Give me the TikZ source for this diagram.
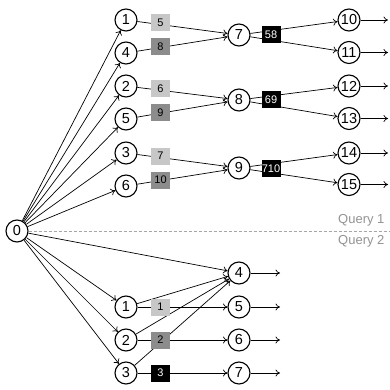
\documentclass[tikz,border=0pt]{standalone}
\usepackage{fontspec}
\setmainfont{Liberation Sans}
\usetikzlibrary{arrows.meta}
\begin{document}
\begin{tikzpicture}[x=1pt,y=-1pt]
      \tikzstyle{noeud}=[circle,draw,line width=1.1pt,fill=white,minimum size=22pt,inner sep=0pt,font=\fontsize{14.5}{16}\selectfont]
      \tikzstyle{boite}=[rectangle,minimum width=19pt,minimum height=17pt,inner sep=0pt,font=\fontsize{11}{12}\selectfont]
      \tikzstyle{clair}=[boite,fill=black!22]
      \tikzstyle{moyen}=[boite,fill=black!45]
      \tikzstyle{fonce}=[boite,fill=black,text=white]
      \tikzstyle{arrow}=[line width=0.7pt,-{To[length=4.5pt,width=7pt]}]
      \useasboundingbox (0,0) rectangle (389,390);
      % racine
      \node[noeud] (q0) at (17,231) {0};
      % requete 1
      \node[noeud] (a1) at (126,20) {1};
      \node[noeud] (a4) at (126,53) {4};
      \node[noeud] (a2) at (126,86) {2};
      \node[noeud] (a5) at (126,119) {5};
      \node[noeud] (a3) at (126,153) {3};
      \node[noeud] (a6) at (126,186) {6};
      \node[noeud] (a7) at (239,35) {7};
      \node[noeud] (a8) at (239,100) {8};
      \node[noeud] (a9) at (239,168) {9};
      \node[noeud] (a10) at (349,20) {10};
      \node[noeud] (a11) at (349,52.5) {11};
      \node[noeud] (a12) at (349,86) {12};
      \node[noeud] (a13) at (349,118.5) {13};
      \node[noeud] (a14) at (349,153) {14};
      \node[noeud] (a15) at (349,184.5) {15};
      \coordinate (f10) at (388,20);
      \coordinate (f11) at (388,52.5);
      \coordinate (f12) at (388,86);
      \coordinate (f13) at (388,118.5);
      \coordinate (f14) at (388,153);
      \coordinate (f15) at (388,184.5);
      % requete 2
      \node[noeud] (b1) at (126,307) {1};
      \node[noeud] (b2) at (126,340) {2};
      \node[noeud] (b3) at (126,373) {3};
      \node[noeud] (b4) at (239,273) {4};
      \node[noeud] (b5) at (239,307) {5};
      \node[noeud] (b6) at (239,340) {6};
      \node[noeud] (b7) at (239,373) {7};
      \coordinate (g4) at (280,273);
      \coordinate (g5) at (280,307);
      \coordinate (g6) at (280,340);
      \coordinate (g7) at (280,373);
      % separation
      \coordinate (s) at (389,231);
      \draw[gray!70,line width=0.7pt,dash pattern=on 3pt off 2pt] (q0)--(s);
      \node[gray!85,anchor=base east,font=\fontsize{13}{14}\selectfont] (t1) at (388,223.5) {Query 1};
      \node[gray!85,anchor=base east,font=\fontsize{13}{14}\selectfont] (t2) at (388,244) {Query 2};
      \draw[arrow] (q0)--(a1);
      \draw[arrow] (q0)--(a4);
      \draw[arrow] (q0)--(a2);
      \draw[arrow] (q0)--(a5);
      \draw[arrow] (q0)--(a3);
      \draw[arrow] (q0)--(a6);
      \draw[arrow] (a1)--(a7);
      \draw[arrow] (a4)--(a7);
      \draw[arrow] (a2)--(a8);
      \draw[arrow] (a5)--(a8);
      \draw[arrow] (a3)--(a9);
      \draw[arrow] (a6)--(a9);
      \draw[arrow] (a7)--(a10);
      \draw[arrow] (a7)--(a11);
      \draw[arrow] (a8)--(a12);
      \draw[arrow] (a8)--(a13);
      \draw[arrow] (a9)--(a14);
      \draw[arrow] (a9)--(a15);
      \draw[arrow] (a10)--(f10);
      \draw[arrow] (a11)--(f11);
      \draw[arrow] (a12)--(f12);
      \draw[arrow] (a13)--(f13);
      \draw[arrow] (a14)--(f14);
      \draw[arrow] (a15)--(f15);
      \draw[arrow] (q0)--(b4);
      \draw[arrow] (q0)--(b1);
      \draw[arrow] (q0)--(b2);
      \draw[arrow] (q0)--(b3);
      \draw[arrow] (b1)--(b4);
      \draw[arrow] (b2)--(b4);
      \draw[arrow] (b3)--(b4);
      \draw[arrow] (b1)--(b5);
      \draw[arrow] (b2)--(b6);
      \draw[arrow] (b3)--(b7);
      \draw[arrow] (b4)--(g4);
      \draw[arrow] (b5)--(g5);
      \draw[arrow] (b6)--(g6);
      \draw[arrow] (b7)--(g7);
      % boites
      \node[clair] (c5) at (160.5,23) {5};
      \node[moyen] (c8) at (160.5,47) {8};
      \node[clair] (c6) at (160.5,89) {6};
      \node[moyen] (c9) at (160.5,113) {9};
      \node[clair] (c7) at (160.5,156) {7};
      \node[moyen] (c10) at (160.5,180) {10};
      \node[fonce] (c58) at (271,34.5) {58};
      \node[fonce] (c69) at (271,100) {69};
      \node[fonce] (c710) at (271,168.5) {710};
      \node[clair] (d1) at (160.5,307) {1};
      \node[moyen] (d2) at (160.5,340) {2};
      \node[fonce] (d3) at (160.5,373) {3};
    \end{tikzpicture}
\end{document}
